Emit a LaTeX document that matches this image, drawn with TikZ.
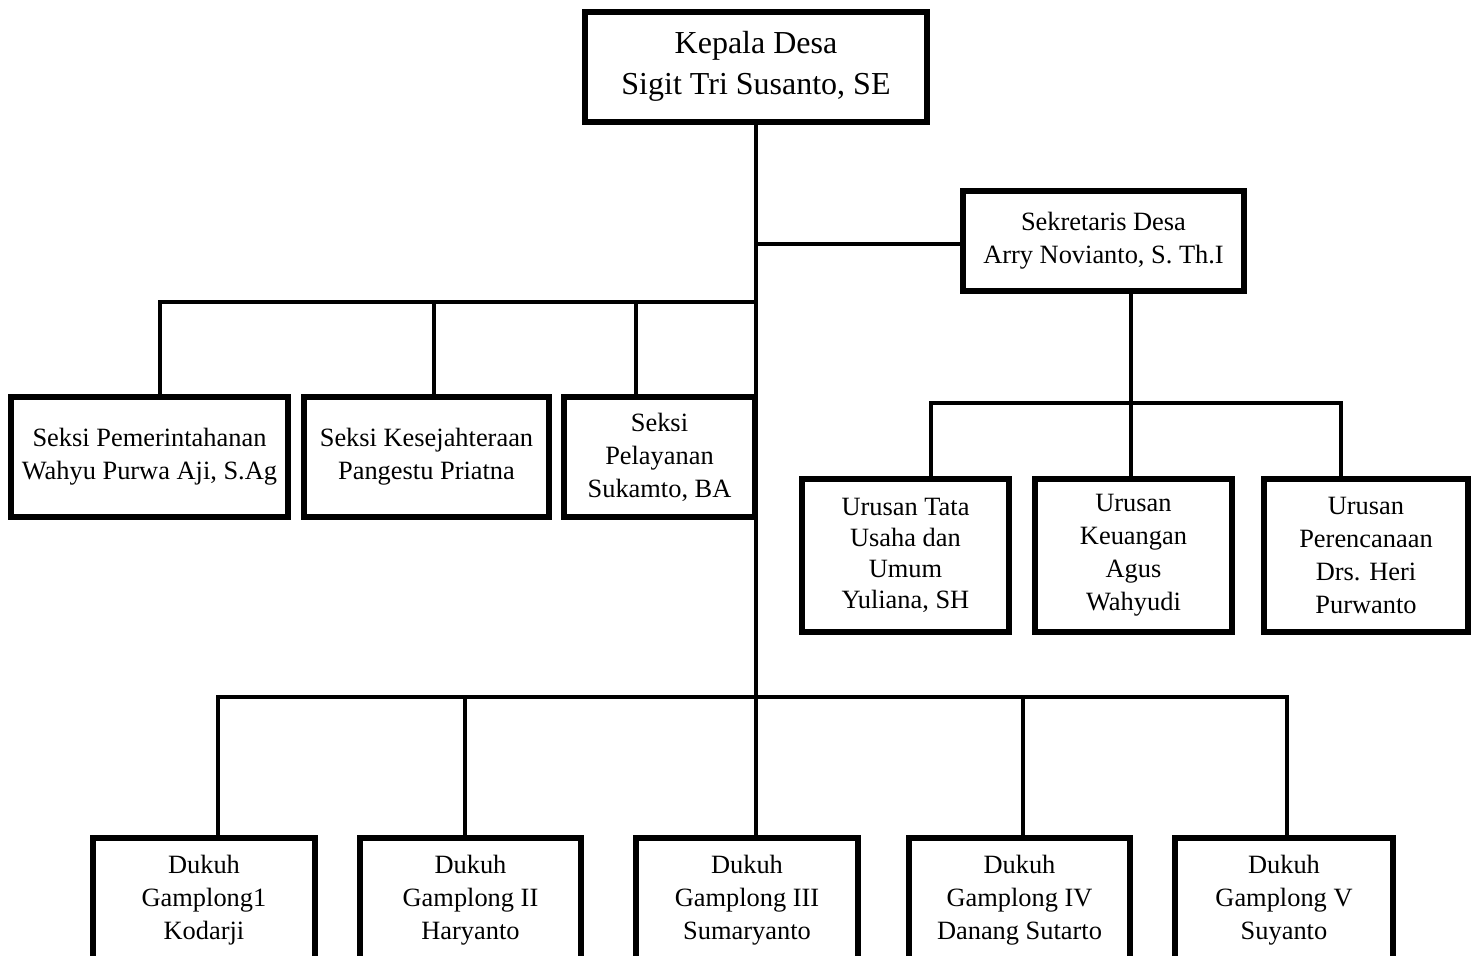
\documentclass[tikz,border=0pt]{standalone}
\usepackage{fontspec}
\setmainfont{Liberation Serif}
\usetikzlibrary{positioning}

\begin{document}
\begin{tikzpicture}[x=0.5pt, y=-0.5pt,
  box/.style={draw, line width=2.6pt, align=center, inner sep=0pt, font=\fontsize{13.2}{16.5}\selectfont},
  headbox/.style={box, line width=3pt, font=\fontsize{16}{20.5}\selectfont},
  ln/.style={line width=1.6pt, line cap=rect}
]
\useasboundingbox (0,0) rectangle (1474,955);
\clip (0,0) rectangle (1474,955);

% kepala desa dan sekretaris
\node[headbox, minimum width=171pt, minimum height=55pt] (kades) at (756,66.5) {Kepala Desa\\Sigit Tri Susanto, SE};
\node[box, minimum width=140.5pt, minimum height=50pt] (sekdes) at (1103.5,241) {Sekretaris Desa\\Arry Novianto, S. Th.I};

% seksi
\node[box, minimum width=138.5pt, minimum height=60pt] (pem) at (149.5,457) {Seksi Pemerintahanan\\Wahyu Purwa Aji, S.Ag};
\node[box, minimum width=122.5pt, minimum height=60pt] (kes) at (426.5,457) {Seksi Kesejahteraan\\Pangestu Priatna};
\node[box, minimum width=95.5pt, minimum height=60pt] (pel) at (659.5,457) {Seksi\\Pelayanan\\Sukamto, BA};

% urusan
\node[box, minimum width=103.5pt, minimum height=76.5pt, font=\fontsize{13.2}{15.5}\selectfont] (tata) at (905.5,555.5) {Urusan Tata\\Usaha dan\\Umum\\Yuliana, SH};
\node[box, minimum width=98.5pt, minimum height=76.5pt] (keu) at (1133.5,555.5) {Urusan\\Keuangan\\Agus\\Wahyudi};
\node[box, minimum width=102pt, minimum height=76.5pt] (ren) at (1366,555.5) {Urusan\\Perencanaan\\Drs. Heri\\Purwanto};

% dukuh
\node[box, minimum width=111pt, minimum height=62.5pt] (da) at (204,900.5) {Dukuh\\Gamplong1\\Kodarji};
\node[box, minimum width=110.5pt, minimum height=62.5pt] (db) at (470.5,900.5) {Dukuh\\Gamplong II\\Haryanto};
\node[box, minimum width=111pt, minimum height=62.5pt] (dc) at (747,900.5) {Dukuh\\Gamplong III\\Sumaryanto};
\node[box, minimum width=110.5pt, minimum height=62.5pt] (dd) at (1019.5,900.5) {Dukuh\\Gamplong IV\\Danang Sutarto};
\node[box, minimum width=109pt, minimum height=62.5pt] (de) at (1284,900.5) {Dukuh\\Gamplong V\\Suyanto};

% garis
\coordinate (sekj) at (756,244);
\coordinate (seksij) at (756,302);
\coordinate (dukuhj) at (756,697);
\coordinate (urj) at (1131,403);
\draw[ln] (kades.south) -- (dukuhj);
\draw[ln] (sekj) -- (sekj -| sekdes.west);
\draw[ln] (urj |- sekdes.south) -- (urj);

\foreach \x/\n in {160/pem,434/kes,636/pel}{
  \coordinate (t\n) at (\x,302);
  \draw[ln] (t\n) -- (t\n |- \n.north);
}
\draw[ln] (tpem) -- (seksij);

\foreach \x/\n in {931/tata,1131/keu,1341/ren}{
  \coordinate (t\n) at (\x,403);
  \draw[ln] (t\n) -- (t\n |- \n.north);
}
\draw[ln] (ttata) -- (tren);

\foreach \x/\n in {218/da,465/db,756/dc,1023/dd,1287/de}{
  \coordinate (t\n) at (\x,697);
  \draw[ln] (t\n) -- (t\n |- \n.north);
}
\draw[ln] (tda) -- (tde);
\end{tikzpicture}
\end{document}
